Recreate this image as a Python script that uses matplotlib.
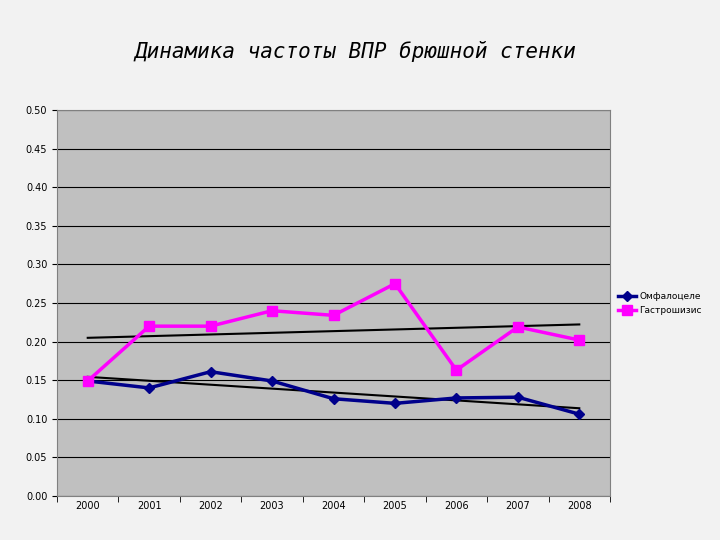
import matplotlib
matplotlib.use("Agg")
import matplotlib.pyplot as plt
import numpy as np

years = ["2000","2001","2002","2003","2004","2005","2006","2007","2008"]
omfalocele = [0.149,0.140,0.161,0.149,0.126,0.120,0.127,0.128,0.106]
gastro = [0.149,0.220,0.220,0.240,0.234,0.275,0.163,0.219,0.202]

fig = plt.figure(figsize=(7.2,5.4), dpi=100)
fig.patch.set_facecolor("#f2f2f2")
ax = fig.add_axes([57/720, 1-496/540, (610-57)/720, (496-110)/540])
ax.set_facecolor("#c0c0c0")
x = np.arange(len(years))
ax.plot(x, omfalocele, color="#00008b", lw=2.5, marker="D", ms=5, label="Омфалоцеле", zorder=3)
ax.plot(x, gastro, color="#ff00ff", lw=2.5, marker="s", ms=7, label="Гастрошизис", zorder=3)
for s in (omfalocele, gastro):
    k, b = np.polyfit(x, s, 1)
    ax.plot(x, k*x+b, color="black", lw=1.5, zorder=2)
ax.set_xlim(-0.5, len(years)-0.5)
ax.set_ylim(0, 0.5)
ax.set_yticks(np.arange(0, 0.501, 0.05))
ax.set_yticklabels([f"{v:.2f}" for v in np.arange(0, 0.501, 0.05)], fontsize=7)
ax.set_xticks(x)
ax.set_xticklabels(years, fontsize=7)
ax.set_xticks(np.arange(-0.5, len(years), 1), minor=True)
ax.tick_params(axis="x", which="major", length=0)
ax.tick_params(axis="x", which="minor", length=4)
ax.grid(axis="y", color="black", lw=0.8)
ax.set_axisbelow(True)
for sp in ax.spines.values():
    sp.set_color("#808080")
fig.legend(loc="upper left", bbox_to_anchor=(612/720, 1-286/540), fontsize=6.5,
           frameon=False, handlelength=2, handletextpad=0.3, borderpad=0.2)
fig.text(355/720, 1-52/540, "Динамика частоты ВПР брюшной стенки", ha="center", va="center",
         fontsize=15, family="DejaVu Sans Mono", style="italic")
fig.savefig("out.png", dpi=100, facecolor=fig.get_facecolor())
